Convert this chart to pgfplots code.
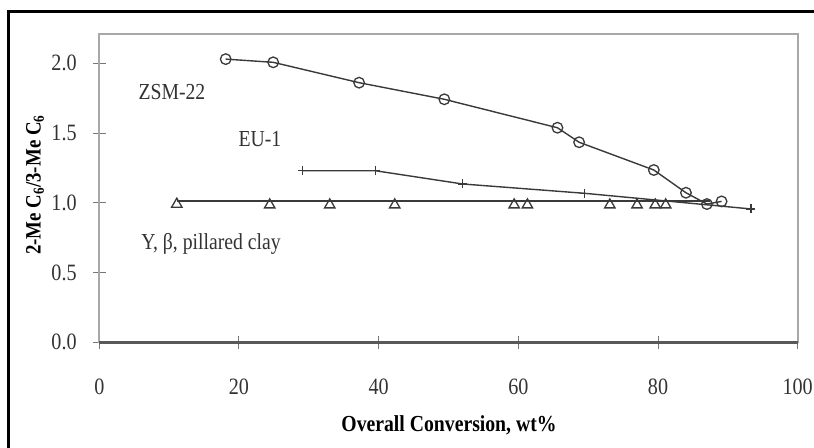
\documentclass[border=0pt]{standalone}
\usepackage{fontspec}
\setmainfont[FakeStretch=0.86]{Liberation Serif}
\usepackage{pgfplots}
\pgfplotsset{compat=1.18}
\definecolor{lineC}{HTML}{3A3A3A}
\definecolor{boxC}{HTML}{A8A8A8}
\definecolor{txtC}{HTML}{333333}
\begin{document}
\begin{tikzpicture}
\path[use as bounding box] (0bp,0bp) rectangle (814bp,448bp);
\fill[white] (0bp,0bp) rectangle (814bp,448bp);
\draw[black, line width=3.2bp] (8.6bp,0bp) -- (8.6bp,436.4bp) -- (814bp,436.4bp);
\begin{axis}[
  at={(99.3bp,105.7bp)}, anchor=south west,
  width=698.4bp, height=308.3bp, scale only axis,
  xmin=0, xmax=100, ymin=0, ymax=2.21,
  xtick={0,20,40,60,80,100},
  ytick={0,0.5,1,1.5,2},
  xtick pos=left, ytick pos=left,
  xticklabel style={/pgf/number format/assume math mode=true, anchor=center, inner sep=0pt, yshift=-37.7bp},
  yticklabel style={/pgf/number format/.cd, fixed, fixed zerofill, precision=1, assume math mode=true, /tikz/.cd, anchor=east, inner sep=0pt, xshift=-16bp},
  ticklabel style={font=\fontsize{23.5}{23.5}\selectfont, text=txtC},
  tick align=center, major tick length=13bp,
  tick style={boxC!70!black, line width=1bp},
  axis line style={boxC, line width=1.6bp},
  xlabel={\textbf{Overall Conversion, wt\%}},
  ylabel={\textbf{2-Me C\textsubscript{6}/3-Me C\textsubscript{6}}},
  xlabel style={font=\fontsize{23}{23}\selectfont, at={(axis description cs:0.5007,-0.268)}, anchor=center},
  ylabel style={font=\fontsize{22}{22}\selectfont, at={(axis description cs:-0.092,0.51)}, anchor=center},
  clip=false,
]
% x axis baseline (darker, thicker)
\addplot[color=black!65, line width=2.6bp, no marks] coordinates {(0,0) (100,0)};
% ZSM-22
\addplot[color=lineC, line width=1.4bp, mark=o, mark size=5.3bp, mark options={line width=1.3bp, fill=none}]
  coordinates {(18.1,2.03) (24.9,2.007) (37.2,1.861) (49.4,1.742) (65.6,1.538) (68.7,1.434) (79.4,1.235) (84.0,1.072) (87.0,0.991) (89.1,1.01)};
% EU-1
\addplot[color=lineC, line width=1.4bp, mark=+, mark size=4.5bp, mark options={line width=1.3bp}]
  coordinates {(29.1,1.23) (39.5,1.23) (52.0,1.135) (69.5,1.068) (93.3,0.956)};
% Y, beta, pillared clay
\addplot[color=lineC, line width=1.4bp, no marks]
  coordinates {(11.1,1.012) (87.5,1.012)};
\addplot[color=lineC, only marks, mark=triangle, mark size=6bp, mark options={line width=1.3bp}]
  coordinates {(11.1,0.99) (24.4,0.985) (33.0,0.985) (42.3,0.985) (59.4,0.985) (61.3,0.985) (73.1,0.985) (77.0,0.985) (79.6,0.985) (81.1,0.985)};
\node[font=\fontsize{23}{23}\selectfont, text=txtC] at (axis cs:10.4,1.794) {ZSM-22};
\node[font=\fontsize{23}{23}\selectfont, text=txtC] at (axis cs:23.0,1.457) {EU-1};
\node[font=\fontsize{23}{23}\selectfont, text=txtC] at (axis cs:16.0,0.705) {Y, β, pillared clay};
\end{axis}
\end{tikzpicture}
\end{document}
